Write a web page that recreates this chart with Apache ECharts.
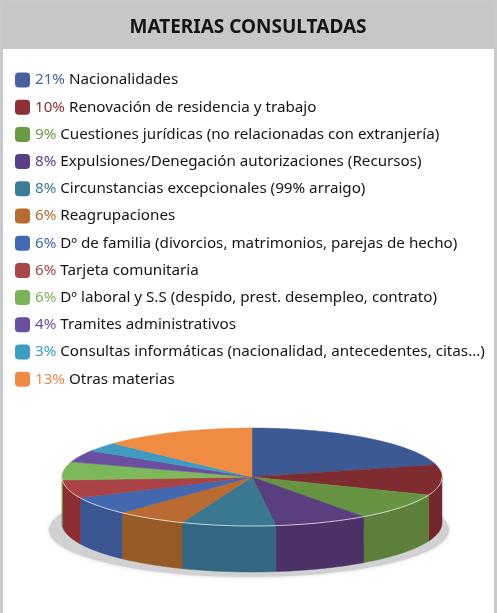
<!DOCTYPE html>
<html>
<head>
<meta charset="utf-8">
<script src="https://cdn.jsdelivr.net/npm/echarts@6/dist/echarts.min.js"></script>
<style>
html, body { margin: 0; padding: 0; background: #fff; }
#main { width: 497px; height: 613px; }
</style>
</head>
<body>
<div id="main"></div>
<script>
var titleText = 'MATERIAS CONSULTADAS';
var categories = [
    'Nacionalidades',
    'Renovación de residencia y trabajo',
    'Cuestiones jurídicas (no relacionadas con extranjería)',
    'Expulsiones/Denegación autorizaciones (Recursos)',
    'Circunstancias excepcionales (99% arraigo)',
    'Reagrupaciones',
    'Dº de familia (divorcios, matrimonios, parejas de hecho)',
    'Tarjeta comunitaria',
    'Dº laboral y S.S (despido, prest. desempleo, contrato)',
    'Tramites administrativos',
    'Consultas informáticas (nacionalidad, antecedentes, citas...)',
    'Otras materias'
];
var shares = [21, 10, 9, 8, 8, 6, 6, 6, 6, 4, 3, 13];

// colores: cara superior y lateral (más oscuro)
var topColors = ['#3c5993', '#7f2c30', '#679443', '#5a3f7e', '#3a7891', '#b96b33',
                 '#4468b0', '#a94345', '#7db85a', '#6a4fa0', '#3f9cc0', '#ef8b43'];
var sideColors = ['#3b5592', '#72282a', '#5e7f3b', '#4b3166', '#336680', '#965a26',
                  '#3b5592', '#8a2e31', '#6a9c4c', '#5a4288', '#35849f', '#cc7539'];
var labelColors = ['#4a5fa0', '#8f3034', '#6b9a45', '#5b3f86', '#3a7d96', '#b86b32',
                   '#4369b3', '#a8464a', '#77b558', '#6a4ea0', '#3d9dc2', '#ef8a45'];

var total = 0;
for (var k = 0; k < shares.length; k++) total += shares[k];

// geometría del pastel 3D
var cx = 252, cy = 477, rx = 190, ry = 49, depth = 46;

function pt(a, dy) {
    return [cx + rx * Math.sin(a), cy - ry * Math.cos(a) + (dy || 0)];
}
function arc(a0, a1, dy) {
    var pts = [];
    var n = Math.max(2, Math.ceil((a1 - a0) / 0.02));
    for (var j = 0; j <= n; j++) pts.push(pt(a0 + (a1 - a0) * j / n, dy));
    return pts;
}

function renderSlice(params, api) {
    var i = params.seriesIndex;
    var before = 0;
    for (var j = 0; j < i; j++) before += shares[j];
    var a0 = before / total * Math.PI * 2;
    var a1 = (before + shares[i]) / total * Math.PI * 2;
    var children = [];

    // lateral (solo la mitad delantera)
    var s0 = Math.max(a0, Math.PI / 2), s1 = Math.min(a1, Math.PI * 1.5);
    if (s1 > s0) {
        var upper = arc(s0, s1, 0);
        var lower = arc(s0, s1, depth).reverse();
        children.push({
            type: 'polygon',
            shape: { points: upper.concat(lower) },
            style: { fill: sideColors[i], stroke: sideColors[i], lineWidth: 0.5 }
        });
        children.push({
            type: 'polyline',
            z2: 10,
            shape: { points: upper },
            style: { fill: null, stroke: 'rgba(255,255,255,0.85)', lineWidth: 0.8 }
        });
    }
    // cara superior
    children.push({
        type: 'polygon',
        z2: 5,
        shape: { points: [[cx, cy]].concat(arc(a0, a1, 0)) },
        style: { fill: topColors[i], stroke: topColors[i], lineWidth: 0.5 }
    });
    return { type: 'group', children: children };
}

var rich = { n: { color: '#151515', fontSize: 15.2, fontFamily: 'Noto Sans', lineHeight: 15 } };
for (var r = 0; r < labelColors.length; r++) {
    rich['p' + r] = { color: labelColors[r], fontSize: 15.2, fontFamily: 'Noto Sans', lineHeight: 15 };
}

var series = [];
for (var s = 0; s < categories.length; s++) {
    series.push({
        name: categories[s],
        type: 'custom',
        coordinateSystem: 'none',
        silent: true,
        itemStyle: { color: labelColors[s] },
        renderItem: renderSlice,
        data: [[shares[s]]]
    });
}

var myChart = echarts.init(document.getElementById('main'));
var option = {
    backgroundColor: '#fff',
    animation: false,
    graphic: [
        { type: 'rect', z: 0, shape: { x: 0, y: 0, width: 497, height: 49 }, style: { fill: '#c6c7c9' } },
        { type: 'rect', z: 0, shape: { x: 0, y: 0, width: 3, height: 613 }, style: { fill: '#c8c9cb' } },
        { type: 'rect', z: 0, shape: { x: 494, y: 0, width: 3, height: 613 }, style: { fill: '#c8c9cb' } },
        { type: 'rect', z: 0, shape: { x: 0, y: 0, width: 497, height: 3 }, style: { fill: '#c8c9cb' } },
        {
            type: 'text', z: 1, x: 248, y: 28,
            style: {
                text: titleText, fill: '#141414', align: 'center', verticalAlign: 'middle',
                font: 'bold 19px "Noto Sans"'
            }
        },
        {
            type: 'ellipse', z: 0,
            shape: { cx: 249, cy: 530, rx: 200, ry: 47 },
            style: { fill: '#d1d1d3', shadowBlur: 4, shadowColor: 'rgba(0,0,0,0.15)' }
        }
    ],
    legend: {
        orient: 'vertical',
        left: 10,
        top: 67.5,
        itemWidth: 15,
        itemHeight: 15,
        itemGap: 12.2,
        icon: 'roundRect',
        selectedMode: false,
        data: categories,
        formatter: function (name) {
            var i = categories.indexOf(name);
            return '{p' + i + '|' + shares[i] + '%} {n|' + name + '}';
        },
        textStyle: { fontFamily: 'Noto Sans', fontSize: 15.2, rich: rich }
    },
    series: series
};
myChart.setOption(option);
</script>
</body>
</html>
